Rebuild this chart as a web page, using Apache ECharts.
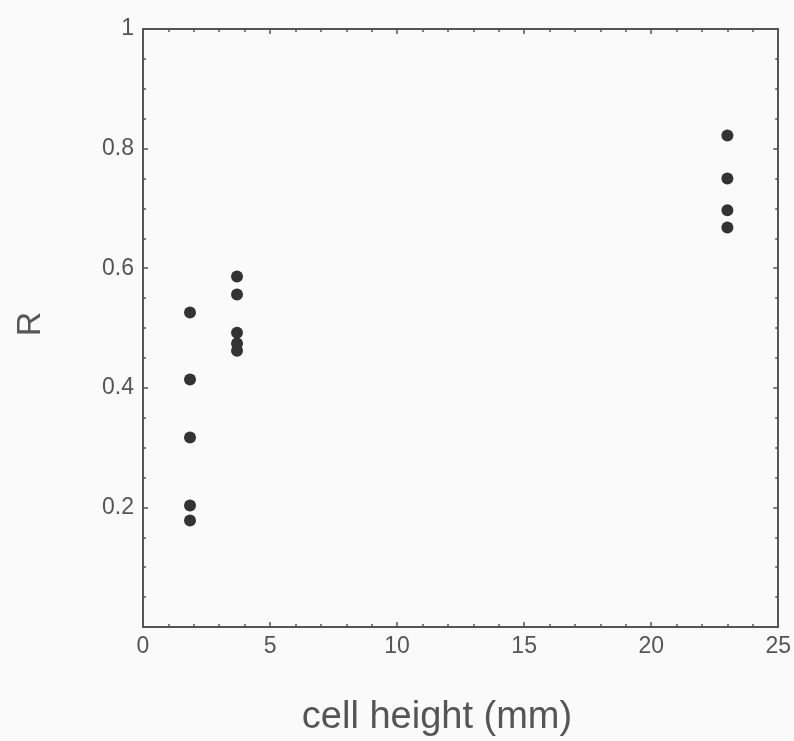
<!DOCTYPE html>
<html>
<head>
<meta charset="utf-8">
<script src="https://cdn.jsdelivr.net/npm/echarts@6/dist/echarts.min.js"></script>
<style>
  html, body { margin: 0; padding: 0; background: #fafafa; }
  #chart { width: 794px; height: 741px; }
</style>
</head>
<body>
<div id="chart"></div>
<script>
// cell height (mm) for each measured group
var cellHeights = [1.85, 3.7, 23];
// R values measured at each cell height
var rGroup1 = [0.526, 0.414, 0.317, 0.203, 0.178];
var rGroup2 = [0.586, 0.556, 0.492, 0.474, 0.462];
var rGroup3 = [0.822, 0.750, 0.697, 0.668];
var xTicks = [0, 5, 10, 15, 20, 25];
var yTicks = [0.2, 0.4, 0.6, 0.8, 1];

var groups = [rGroup1, rGroup2, rGroup3];
var points = [];
groups.forEach(function (vals, i) {
    vals.forEach(function (v) {
        points.push([cellHeights[i], v]);
    });
});

var labelFont = 'Liberation Sans, Arial, sans-serif';
var frameLine = { show: true, onZero: false, lineStyle: { color: '#555', width: 2 } };

function xAxisDef(pos, showLabel) {
    return {
        type: 'value', position: pos, min: 0, max: 25, interval: 5,
        axisLine: frameLine,
        axisTick: { show: true, inside: true, length: 5, lineStyle: { color: '#555', width: 1.5 } },
        minorTick: { show: true, splitNumber: 5, length: 3, lineStyle: { color: '#555', width: 1.5 } },
        splitLine: { show: false },
        axisLabel: {
            show: showLabel, color: '#555', fontSize: 23, fontFamily: labelFont, margin: 8,
            formatter: function (v) { return xTicks.indexOf(v) >= 0 ? String(v) : ''; }
        }
    };
}

function yAxisDef(pos, showLabel) {
    return {
        type: 'value', position: pos, min: 0, max: 1, interval: 0.2,
        axisLine: frameLine,
        axisTick: { show: true, inside: true, length: 5, lineStyle: { color: '#555', width: 1.5 } },
        minorTick: { show: true, splitNumber: 4, length: 3, lineStyle: { color: '#555', width: 1.5 } },
        splitLine: { show: false },
        axisLabel: {
            show: showLabel, color: '#555', fontSize: 23, fontFamily: labelFont, margin: 9,
            formatter: function (v) {
                var r = Math.round(v * 10) / 10;
                return yTicks.indexOf(r) >= 0 ? String(r) : '';
            }
        }
    };
}

var chart = echarts.init(document.getElementById('chart'));
chart.setOption({
    backgroundColor: '#fafafa',
    animation: false,
    grid: { left: 143, right: 14, top: 29, bottom: 114 },
    xAxis: [xAxisDef('bottom', true), xAxisDef('top', false)],
    yAxis: [yAxisDef('left', true), yAxisDef('right', false)],
    graphic: [
        {
            type: 'text', x: 31, y: 324, rotation: Math.PI / 2,
            style: { text: 'R', fill: '#555', font: '34px ' + labelFont, align: 'center', verticalAlign: 'middle' }
        },
        {
            type: 'text', x: 437, y: 718,
            style: { text: 'cell height (mm)', fill: '#555', font: '38px ' + labelFont, align: 'center', verticalAlign: 'middle' }
        }
    ],
    series: [{
        type: 'scatter',
        data: points,
        symbolSize: 12,
        itemStyle: { color: '#333', opacity: 1 }
    }]
});
</script>
</body>
</html>
